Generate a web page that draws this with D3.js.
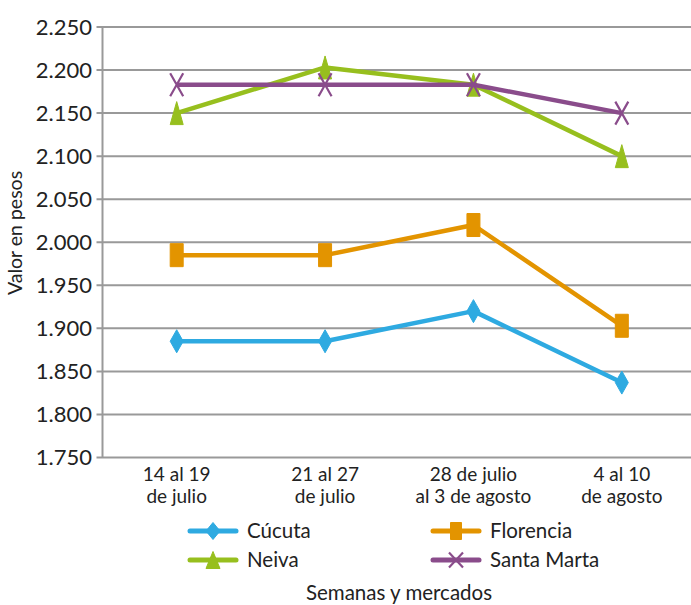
<!DOCTYPE html>
<html><head><meta charset="utf-8">
<script src="https://cdn.jsdelivr.net/npm/d3@7"></script>
<style>body{margin:0;background:#fff}svg{display:block;font-family:Lato,"Open Sans",sans-serif}</style>
</head><body><svg id="c" width="691" height="605"></svg>
<script>
const categories = [["14 al 19","de julio"],["21 al 27","de julio"],["28 de julio","al 3 de agosto"],["4 al 10","de agosto"]];
const cucuta = [1885, 1885, 1920, 1837];
const florencia = [1985, 1985, 2020, 1903];
const neiva = [2150, 2203, 2183, 2100];
const santaMarta = [2183, 2183, 2183, 2150];
const yTicks = [1750,1800,1850,1900,1950,2000,2050,2100,2150,2200,2250];
const seriesNames = ["Cúcuta","Florencia","Neiva","Santa Marta"];

const series = [
  {name:seriesNames[0], values:cucuta, color:"#2EAAE1", marker:"diamond"},
  {name:seriesNames[1], values:florencia, color:"#E39400", marker:"square"},
  {name:seriesNames[2], values:neiva, color:"#97BF1E", marker:"triangle"},
  {name:seriesNames[3], values:santaMarta, color:"#8A4C8B", marker:"x"}
];

const svg = d3.select("#c");
const pLeft = 102.5, pRight = 696, pTop = 27, pBottom = 457.5;
const x = d3.scaleBand().domain(d3.range(categories.length)).range([pLeft, pRight]);
const y = d3.scaleLinear().domain([1750, 2250]).range([pBottom, pTop]);
const fmt = v => d3.format(",")(v).replace(",", ".");

// grid
svg.append("g").selectAll("line").data(yTicks).join("line")
  .attr("x1", pLeft - 6).attr("x2", 691)
  .attr("y1", d => y(d)).attr("y2", d => y(d))
  .attr("stroke", "#999").attr("stroke-width", 2);
// y axis line
svg.append("line").attr("x1", pLeft).attr("x2", pLeft).attr("y1", pTop).attr("y2", pBottom)
  .attr("stroke", "#999").attr("stroke-width", 2);

svg.append("g").selectAll("text").data(yTicks).join("text")
  .attr("x", 92).attr("y", d => y(d)).attr("dy", "0.36em")
  .attr("text-anchor", "end").attr("font-size", 22).attr("fill", "#222")
  .text(d => fmt(d));

// x labels
const xl = svg.append("g").selectAll("text").data(categories).join("text")
  .attr("text-anchor", "middle").attr("font-size", 19).attr("fill", "#222");
xl.each(function(d, i){
  const t = d3.select(this);
  const cx = x(i) + x.bandwidth()/2;
  t.append("tspan").attr("x", cx).attr("y", 481).text(d[0]);
  t.append("tspan").attr("x", cx).attr("y", 503).text(d[1]);
});

function markerPath(type, cx, cy, w, h){
  const hw = w/2, hh = h/2;
  if (type === "diamond") return `M${cx},${cy-hh}L${cx+hw},${cy}L${cx},${cy+hh}L${cx-hw},${cy}Z`;
  if (type === "square") return `M${cx-hw},${cy-hh}h${w}v${h}h${-w}Z`;
  if (type === "triangle") return `M${cx},${cy-hh}L${cx+hw},${cy+hh}L${cx-hw},${cy+hh}Z`;
  return `M${cx-hw},${cy-hh}L${cx+hw},${cy+hh}M${cx+hw},${cy-hh}L${cx-hw},${cy+hh}`;
}
function drawMarker(g, type, cx, cy, color, w, h){
  const p = g.append("path").attr("d", markerPath(type, cx, cy, w, h));
  if (type === "x") p.attr("fill", "none").attr("stroke", color).attr("stroke-width", 2.2);
  else p.attr("fill", color).attr("stroke", color).attr("stroke-width", 1).attr("stroke-linejoin", "round");
}

const line = d3.line().x((d, i) => x(i) + x.bandwidth()/2).y(d => y(d));
series.forEach(s => {
  const g = svg.append("g");
  g.append("path").datum(s.values).attr("d", line).attr("fill", "none")
    .attr("stroke", s.color).attr("stroke-width", 4.5).attr("stroke-linejoin", "round");
  s.values.forEach((v, i) => {
    drawMarker(g, s.marker, x(i) + x.bandwidth()/2, y(v), s.color, 13, 23);
  });
});

// legend
const legPos = [[190, 531], [433, 531], [190, 560], [433, 560]];
series.forEach((s, i) => {
  const [lx, ly] = legPos[i];
  const g = svg.append("g");
  g.append("line").attr("x1", lx).attr("x2", lx + 46).attr("y1", ly).attr("y2", ly)
    .attr("stroke", s.color).attr("stroke-width", 5).attr("stroke-linecap", "round");
  drawMarker(g, s.marker, lx + 23, ly, s.color, s.marker === "square" ? 11 : 14, s.marker === "x" ? 15 : 17);
  g.append("text").attr("x", lx + 57).attr("y", ly).attr("dy", "0.36em")
    .attr("font-size", 20.5).attr("fill", "#222").text(s.name);
});

svg.append("text").attr("x", 399).attr("y", 600).attr("text-anchor", "middle")
  .attr("font-size", 20.5).attr("fill", "#222").text("Semanas y mercados");
svg.append("text").attr("transform", "translate(22,233) rotate(-90)").attr("text-anchor", "middle")
  .attr("font-size", 19.5).attr("fill", "#222").text("Valor en pesos");
</script></body></html>
